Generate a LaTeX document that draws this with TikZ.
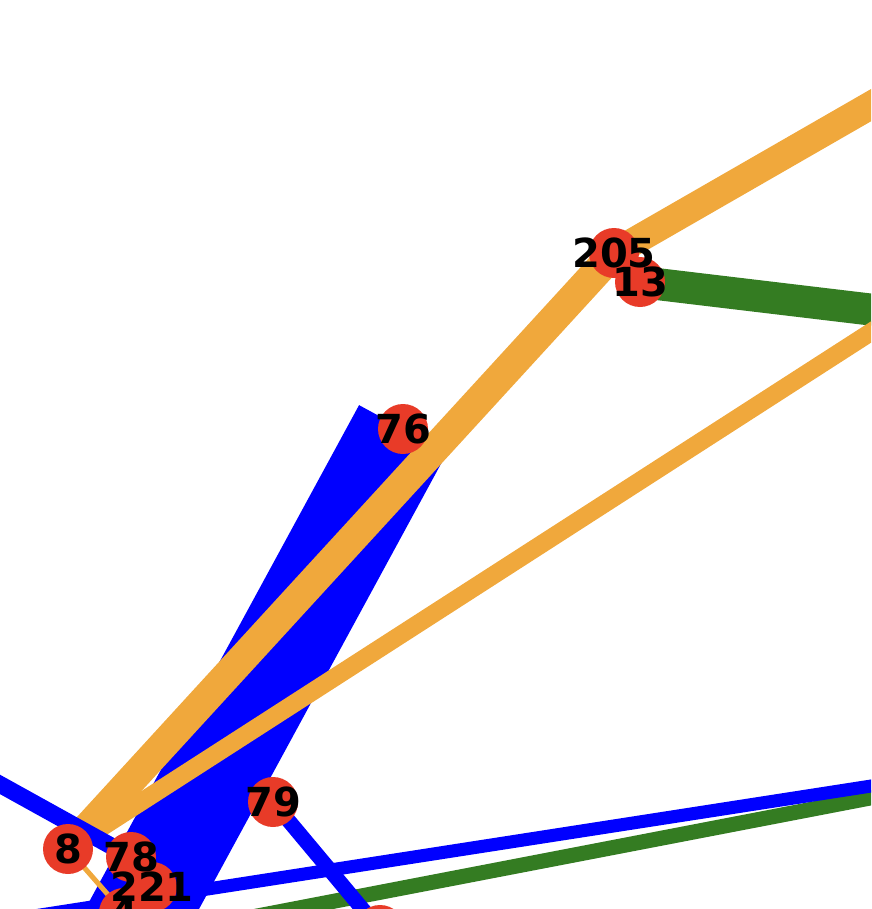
\documentclass[tikz,border=0pt]{standalone}
\usepackage{fontspec}
\setmainfont{DejaVu Sans}
\definecolor{nodered}{RGB}{232,59,40}
\definecolor{edgeorange}{RGB}{240,168,60}
\definecolor{edgegreen}{RGB}{52,124,34}
\begin{document}
\begin{tikzpicture}[x=1pt,y=-1pt]
    \tikzstyle{vert} = [circle, minimum size=50pt, inner sep=0pt]
    \tikzstyle{lbl} = [text=black, font=\fontsize{40}{48}\selectfont\bfseries, inner sep=0pt]
    \tikzstyle{blueline} = [draw=blue, line width=15pt]
    \tikzstyle{orangeline} = [draw=edgeorange, line width=18pt]
    \tikzstyle{greenline} = [draw=edgegreen, line width=15pt]
    \useasboundingbox (0,0) rectangle (871,909);
    \clip (0,0) rectangle (871,909);
    % nodes
    \node[vert] (n205) at (614,253) {};
    \node[vert] (n13) at (640,282) {};
    \node[vert] (n76) at (403,429) {};
    \node[vert] (n79) at (273,802) {};
    \node[vert] (n8) at (68,849) {};
    \node[vert] (n78) at (131,857) {};
    \node[vert] (n221) at (152,887) {};
    \node[vert] (n4) at (124,913) {};
    \node[vert] (nlow) at (128,935) {};
    \node[vert] (nb) at (380,930) {};
    % ends outside the frame
    \coordinate (ne205) at (1000,31);
    \coordinate (e13) at (1000,325);
    \coordinate (eorange) at (1000,249);
    \coordinate (egreen) at (1000,773);
    \coordinate (sgreen) at (200,927);
    \coordinate (eblue) at (1000,766);
    \coordinate (wblue) at (-50,929);
    \coordinate (wleft) at (-100,729);
    % edges
    \draw[greenline, line width=32pt] (n13.center) to (e13);
    \draw[greenline] (egreen) to (sgreen);
    \draw[blueline, line width=100pt] (n76.center) to (nlow.center);
    \draw[blueline] (n79.center) to (nb.center);
    \draw[blueline, line width=13pt] (eblue) to (wblue);
    \draw[orangeline, line width=28pt] (n205.center) to (ne205);
    \draw[orangeline, line width=30pt] (n205.center) to (n8.center);
    \draw[orangeline] (eorange) to (n8.center);
    \draw[orangeline, line width=5pt] (n8.center) to (n4.center);
    \draw[blueline, line width=17pt] (wleft) to (n78.center);
    % circles on top of the edges
    \foreach \n in {n205,n13,n76,n79,n8,n78,n221,n4,nlow,nb}
        \fill[nodered] (\n) circle (25pt);
    % labels
    \node[lbl] at (n205) {205};
    \node[lbl] at (n13) {13};
    \node[lbl] at (n76) {76};
    \node[lbl] at (n79) {79};
    \node[lbl] at (n8) {8};
    \node[lbl] at (n78) {78};
    \node[lbl] at (n221) {221};
    \node[lbl] at (n4) {4};
\end{tikzpicture}
\end{document}
